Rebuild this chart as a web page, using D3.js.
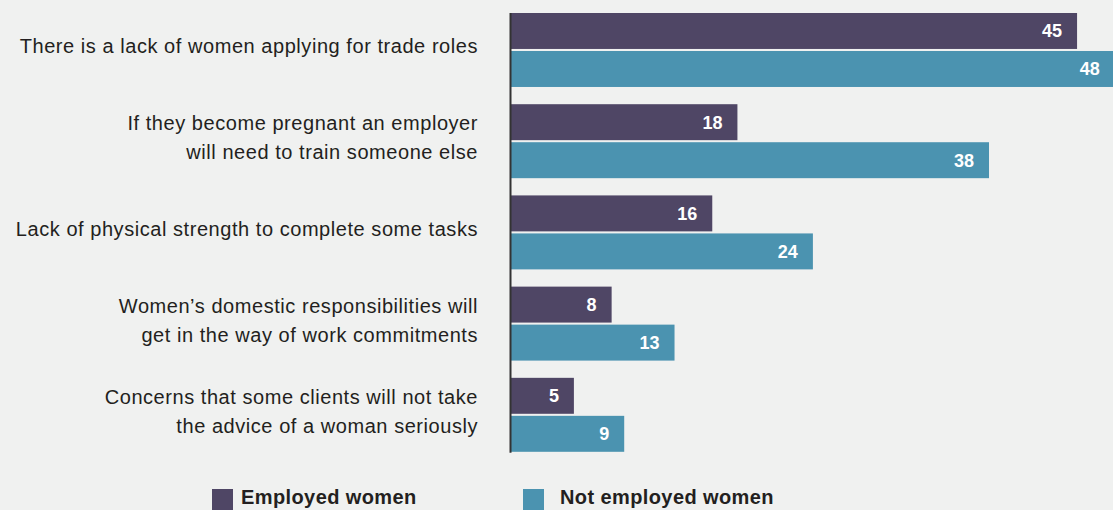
<!DOCTYPE html>
<html>
<head>
<meta charset="utf-8">
<script src="https://cdn.jsdelivr.net/npm/d3@7"></script>
<style>
  html, body { margin: 0; padding: 0; background: #f0f1f0; }
  svg { display: block; }
</style>
</head>
<body>
<svg id="chart" width="1113" height="510"></svg>
<script>
// Reasons given, one entry per category (lines split with \n)
const categories = [
  "There is a lack of women applying for trade roles",
  "If they become pregnant an employer\nwill need to train someone else",
  "Lack of physical strength to complete some tasks",
  "Women\u2019s domestic responsibilities will\nget in the way of work commitments",
  "Concerns that some clients will not take\nthe advice of a woman seriously"
];
const seriesNames = ["Employed women", "Not employed women"];
const employed    = [45, 18, 16, 8, 5];
const notEmployed = [48, 38, 24, 13, 9];
const seriesColors = ["#4f4665", "#4b93b0"];

const W = 1113, H = 510;
const svg = d3.select("#chart");
const font = "'Liberation Sans', Arial, sans-serif";

const x = d3.scaleLinear().domain([0, 48]).range([511, 1114.8]);
const y = d3.scaleBand().domain(d3.range(categories.length))
  .range([13, 451.8]).paddingInner(0.189).paddingOuter(0);
const ySub = d3.scaleBand().domain(d3.range(seriesNames.length))
  .range([0, y.bandwidth()]).paddingInner(0.054);

const values = [employed, notEmployed];
const rows = [];
categories.forEach((c, i) => {
  values.forEach((vals, s) => rows.push({ i, s, v: vals[i] }));
});

// Bars
svg.append("g").selectAll("rect").data(rows).join("rect")
  .attr("x", x(0))
  .attr("y", d => y(d.i) + ySub(d.s))
  .attr("width", d => x(d.v) - x(0))
  .attr("height", ySub.bandwidth())
  .attr("fill", d => seriesColors[d.s]);

// Value labels inside the bar ends
svg.append("g").selectAll("text").data(rows).join("text")
  .attr("x", d => x(d.v) - 15)
  .attr("y", d => y(d.i) + ySub(d.s) + ySub.bandwidth() / 2 + 6.5)
  .attr("text-anchor", "end")
  .attr("fill", "#ffffff")
  .attr("font-family", font)
  .attr("font-weight", "bold")
  .attr("font-size", 18)
  .text(d => d.v);

// Baseline
svg.append("line")
  .attr("x1", x(0) - 0.5).attr("x2", x(0) - 0.5)
  .attr("y1", y.range()[0]).attr("y2", y.range()[1] + 1)
  .attr("stroke", "#333333").attr("stroke-width", 2);

// Category labels
const lineH = 29;
const cat = svg.append("g").selectAll("text").data(categories).join("text")
  .attr("text-anchor", "end")
  .attr("fill", "#231f20")
  .attr("font-family", font)
  .attr("font-size", 20)
  .attr("letter-spacing", 0.55);
cat.each(function (c, i) {
  const lines = c.split("\n");
  const cy = y(i) + y.bandwidth() / 2 - 3;
  const first = cy - (lines.length - 1) * lineH / 2 + 6.5;
  d3.select(this).selectAll("tspan").data(lines).join("tspan")
    .attr("x", 478)
    .attr("y", (l, k) => first + k * lineH)
    .text(l => l);
});

// Legend
const legend = svg.append("g");
const legX = [212, 523];
seriesNames.forEach((name, s) => {
  legend.append("rect")
    .attr("x", legX[s]).attr("y", 489)
    .attr("width", 21).attr("height", 21)
    .attr("fill", seriesColors[s]);
  legend.append("text")
    .attr("x", legX[s] + (s === 0 ? 29 : 37)).attr("y", 504)
    .attr("fill", "#231f20")
    .attr("font-family", font)
    .attr("font-weight", "bold")
    .attr("font-size", 20)
    .attr("letter-spacing", 0.4)
    .text(name);
});
</script>
</body>
</html>
